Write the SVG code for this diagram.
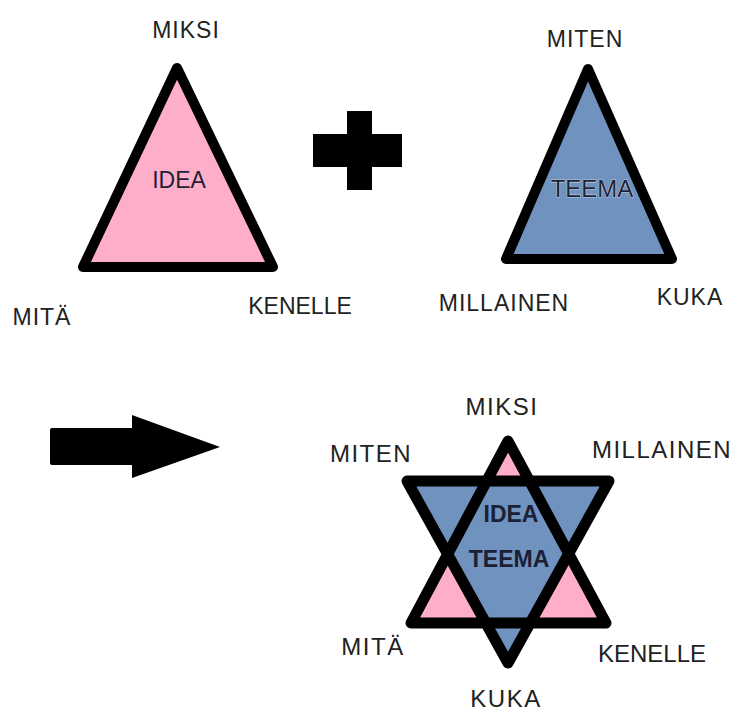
<svg xmlns="http://www.w3.org/2000/svg" width="741" height="714" viewBox="0 0 741 714">
<style>
.lbl{font-family:"Liberation Sans",Arial,sans-serif;font-size:23px;letter-spacing:1px;fill:#222;text-anchor:middle}
.lbl2{font-family:"Liberation Sans",Arial,sans-serif;font-size:24px;letter-spacing:1.5px;fill:#222;text-anchor:middle}
.in{font-family:"Liberation Sans",Arial,sans-serif;font-size:22px;fill:#1e2236;text-anchor:middle}
.inb{font-family:"Liberation Sans",Arial,sans-serif;font-size:23px;font-weight:bold;fill:#1a2035;text-anchor:middle}
.tight{letter-spacing:0}
.pink{fill:#ffaec9}
.blue{fill:#7092be}
.edge{fill:none;stroke:#000;stroke-width:10;stroke-linejoin:round}
</style>
<rect width="741" height="714" fill="#fff"/>
<g id="idea-triangle">
<polygon class="pink" points="177,68 83,267 273,267"/>
<polygon class="edge" points="177,68 83,267 273,267"/>
<text class="in" x="179" y="188" style="font-size:23px">IDEA</text>
</g>
<g id="plus">
<rect x="347" y="111" width="25" height="79" fill="#000"/>
<rect x="313" y="134" width="89" height="33" fill="#000"/>
</g>
<g id="teema-triangle">
<polygon class="blue" points="588,69 506,259 672,259"/>
<polygon class="edge" points="588,69 506,259 672,259"/>
<text class="in" x="592" y="197" style="font-size:24px;stroke:#fff;stroke-width:0.6;paint-order:stroke">TEEMA</text>
</g>
<g id="top-labels">
<text class="lbl" x="186" y="38">MIKSI</text>
<text class="lbl" x="42" y="325">MITÄ</text>
<text class="lbl tight" x="300" y="314">KENELLE</text>
<text class="lbl" x="585" y="47">MITEN</text>
<text class="lbl" x="504" y="311">MILLAINEN</text>
<text class="lbl" x="690" y="305">KUKA</text>
</g>
<g id="arrow">
<path d="M52,428 H132 V415 L220,447 L132,478 V465 H52 Q50,465 50,463 V430 Q50,428 52,428 Z" fill="#000"/>
</g>
<g id="star">
<polygon class="pink" points="508,441 411,623 606,623"/>
<polygon class="blue" points="407,481 609,481 508,663"/>
<polygon class="edge" points="508,441 411,623 606,623" style="stroke-width:11"/>
<polygon class="edge" points="407,481 609,481 508,663" style="stroke-width:11"/>
<text class="inb" x="511" y="522">IDEA</text>
<text class="inb" x="509" y="567">TEEMA</text>
</g>
<g id="bottom-labels">
<text class="lbl2" x="502" y="415">MIKSI</text>
<text class="lbl2" x="371" y="462">MITEN</text>
<text class="lbl2" x="662" y="458">MILLAINEN</text>
<text class="lbl2" x="373" y="655">MITÄ</text>
<text class="lbl2 tight" x="652" y="662">KENELLE</text>
<text class="lbl2" x="506" y="707">KUKA</text>
</g>
<g id="connectors"></g>
</svg>
